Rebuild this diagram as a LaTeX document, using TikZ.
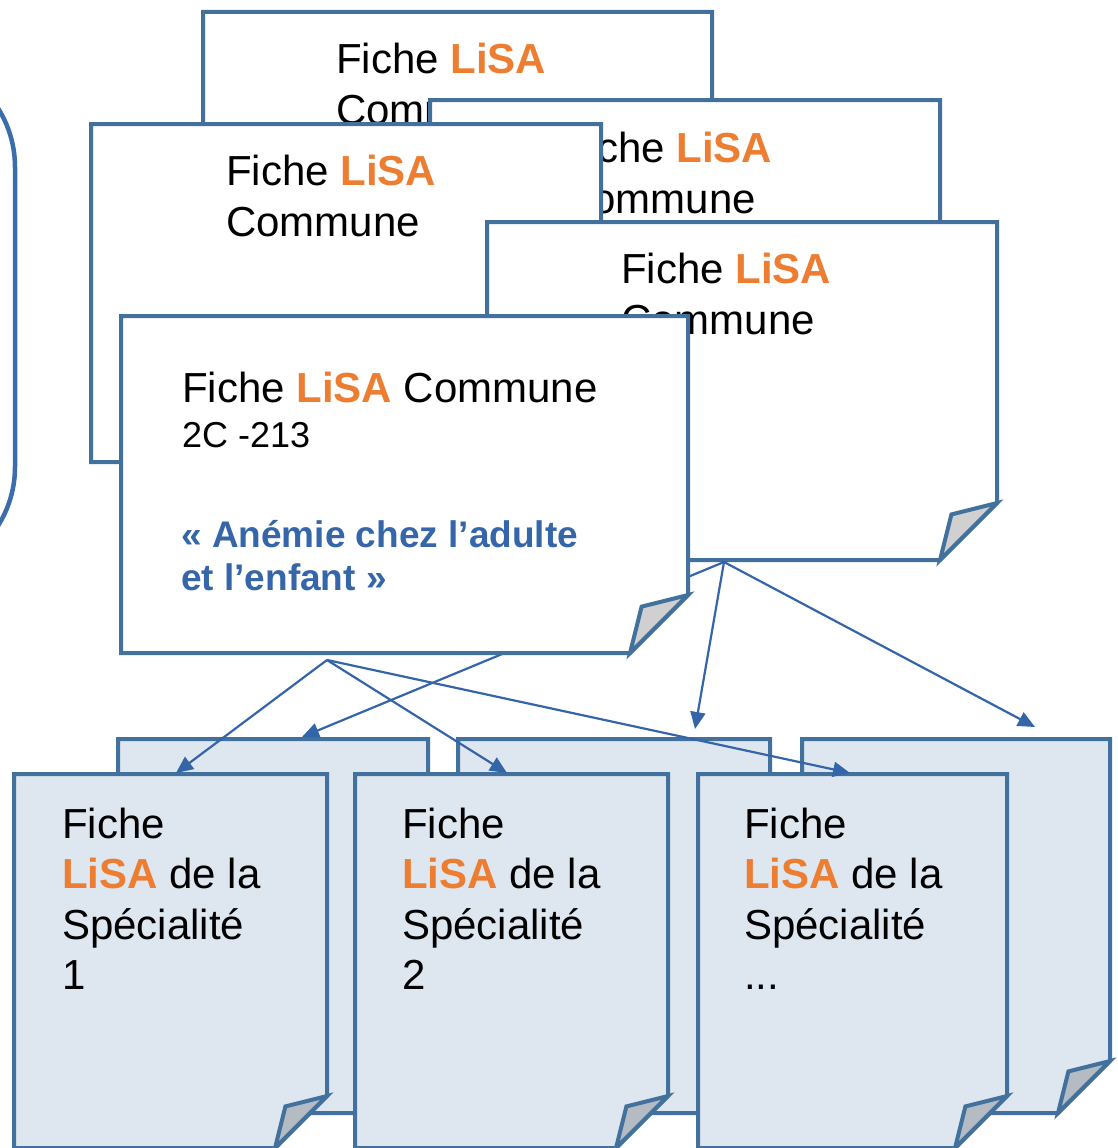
\documentclass[tikz,border=0pt]{standalone}
\usepackage{fontspec}
\setmainfont{Liberation Sans}
\usetikzlibrary{arrows.meta}
\definecolor{boxline}{HTML}{41719C}
\definecolor{lisaorange}{HTML}{ED7D31}
\definecolor{titleblue}{HTML}{3566A9}
\definecolor{arrowblue}{HTML}{3465A8}
\definecolor{specfill}{HTML}{DEE6EF}
\definecolor{topfoldfill}{HTML}{D0D0D0}
\definecolor{specfoldfill}{HTML}{B5BBC3}
\definecolor{frameblue}{HTML}{3B6DAC}
\newcommand\lisa{\textcolor{lisaorange}{\textbf{LiSA}}}
% #1 name, #2 L, #3 T, #4 R, #5 B, #6 fold size, #7 box style, #8 fold style
\newcommand\foldbox[8]{%
  \coordinate (#1) at (#2,#3);
  \filldraw[#7] (#2,#3) -- (#4,#3) -- (#4,{#5-#6}) -- ({#4-#6},#5) -- (#2,#5) -- cycle;
  \filldraw[#8] (#4,{#5-#6}) -- ({#4-0.8*#6},{#5-0.8*#6}) -- ({#4-#6},#5) -- cycle;
}
\tikzset{
  topbox/.style={draw=boxline, fill=white, line width=4pt},
  topfold/.style={draw=boxline, fill=topfoldfill, line width=4pt},
  specbox/.style={draw=boxline, fill=specfill, line width=4pt},
  specfold/.style={draw=boxline, fill=specfoldfill, line width=4pt},
  lbl/.style={inner sep=0pt, anchor=base west, align=left, font=\fontsize{42}{51}\selectfont},
  speclbl/.style={lbl, font=\fontsize{42}{50.5}\selectfont},
  link/.style={draw=arrowblue, line width=2.2pt, -{Triangle[length=17pt,width=15pt]}},
}
\begin{document}
\begin{tikzpicture}[x=1pt,y=-1pt]
\useasboundingbox (0,0) rectangle (1118,1148);
% left rounded frame
\draw[frameblue, line width=4.5pt, rounded corners=110pt] (-400,57) rectangle (15,577);
% speciality sheets, back row
\foldbox{bs1}{118}{739}{428}{1113}{52}{specbox}{specfold}
\foldbox{bs2}{458}{739}{770}{1113}{52}{specbox}{specfold}
\foldbox{bs3}{802}{739}{1110}{1113}{52}{specbox}{specfold}
% speciality sheets, front row (label anchors on the last line's baseline)
\foldbox{fs1}{14}{774}{327}{1148}{52}{specbox}{specfold}
\node[speclbl] (fs1t) at (62,989.5) {Fiche\\\lisa{} de la\\Spécialité\\1};
\foldbox{fs2}{355}{774}{668}{1148}{52}{specbox}{specfold}
\node[speclbl] (fs2t) at (402,989.5) {Fiche\\\lisa{} de la\\Spécialité\\2};
\foldbox{fs3}{698}{774}{1007}{1148}{52}{specbox}{specfold}
\node[speclbl] (fs3t) at (744,989.5) {Fiche\\\lisa{} de la\\Spécialité\\...};
% common sheets
\foldbox{ca}{203}{12}{712}{350}{55}{topbox}{topfold}
\node[lbl] (cat) at (336,124) {Fiche \lisa\\Commune};
\foldbox{cb}{430}{100}{940}{438}{55}{topbox}{topfold}
\node[lbl] (cbt) at (562,213) {Fiche \lisa\\Commune};
\foldbox{cc}{91}{124}{601}{462}{55}{topbox}{topfold}
\node[lbl] (cct) at (226,236) {Fiche \lisa\\Commune};
\foldbox{cd}{487}{222}{997}{560}{57}{topbox}{topfold}
\node[lbl] (cdt) at (621,334) {Fiche \lisa\\Commune};
% connection points
\coordinate (dout) at (724,562);
\coordinate (eout) at (327,660);
\coordinate (bs1in) at (302,737);
\coordinate (bs2in) at (695,729);
\coordinate (bs3in) at (1035,727);
\coordinate (fs1in) at (176,773);
\coordinate (fs2in) at (507,773);
\coordinate (fs3in) at (850,773);
\draw[link] (dout) -- (bs1in);
\draw[link] (dout) -- (bs2in);
\draw[link] (dout) -- (bs3in);
% front common sheet
\foldbox{ce}{121}{316}{688}{653}{58}{topbox}{topfold}
\node[lbl] (cet) at (182,402) {Fiche \lisa{} Commune};
\node[lbl, font=\fontsize{36}{43}\selectfont] (cecode) at (182,447) {2C -213};
\node[lbl, font=\fontsize{37}{43}\selectfont\bfseries, text=titleblue] (cetitle) at (181,590) {« Anémie chez l’adulte\\et l’enfant »};
\draw[link] (eout) -- (fs1in);
\draw[link] (eout) -- (fs2in);
\draw[link] (eout) -- (fs3in);
\end{tikzpicture}
\end{document}
